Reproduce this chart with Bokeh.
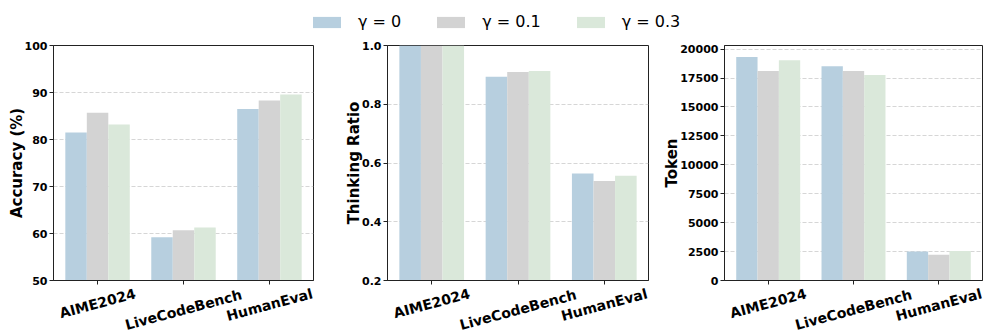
import numpy as np
from bokeh.plotting import figure
from bokeh.models import (FixedTicker, PrintfTickFormatter, Range1d, Legend,
                          LegendItem, ColumnDataSource)
from bokeh.core.properties import value
from bokeh.layouts import column, row
from bokeh.embed import file_html
from bokeh.resources import INLINE

categories = ["AIME2024", "LiveCodeBench", "HumanEval"]
series_labels = ["γ = 0", "γ = 0.1", "γ = 0.3"]
colors = ["#b7cfdf", "#d3d3d3", "#dae8da"]

accuracy_g0 = [81.5, 59.2, 86.5]
accuracy_g01 = [85.7, 60.7, 88.3]
accuracy_g03 = [83.2, 61.3, 89.6]

ratio_g0 = [1.0, 0.894, 0.564]
ratio_g01 = [1.0, 0.910, 0.539]
ratio_g03 = [1.0, 0.913, 0.557]

token_g0 = [19330, 18530, 2510]
token_g01 = [18120, 18120, 2230]
token_g03 = [19050, 17770, 2540]

acc_ticks = [50, 60, 70, 80, 90, 100]
ratio_ticks = [0.2, 0.4, 0.6, 0.8, 1.0]
token_ticks = [0, 2500, 5000, 7500, 10000, 12500, 15000, 17500, 20000]

FONT = "DejaVu Sans"
BAR_W = 0.25
ROT = np.deg2rad(15)
TOP, FRAME_H, BOTTOM = 7, 235, 6
LEG_H = 38
LAB_H = 332 - LEG_H - (TOP + FRAME_H + BOTTOM)


def panel(series, ylabel, y0, y1, ticks, fmt, left, right, frame_w):
    xr = Range1d(-0.5125, 2.5125)
    p = figure(width=left + frame_w + right, height=TOP + FRAME_H + BOTTOM,
               x_range=xr, y_range=Range1d(y0, y1),
               output_backend="svg", toolbar_location=None,
               min_border_left=left, min_border_right=right,
               min_border_top=TOP, min_border_bottom=BOTTOM)
    n = len(series)
    for i, (vals, col) in enumerate(zip(series, colors)):
        xs = np.arange(len(categories)) + (i - (n - 1) / 2) * BAR_W
        p.vbar(x=xs, top=vals, bottom=0, width=BAR_W, fill_color=col,
               line_color=None)
    p.xgrid.visible = False
    p.ygrid.grid_line_color = "#cccccc"
    p.ygrid.grid_line_dash = "4 2"
    p.ygrid.grid_line_alpha = 0.8
    p.ygrid.ticker = FixedTicker(ticks=ticks)
    p.outline_line_color = "#222222"
    p.outline_line_width = 1
    p.outline_line_alpha = 1

    xa = p.xaxis[0]
    xa.ticker = FixedTicker(ticks=list(range(len(categories))))
    xa.major_label_overrides = {i: "" for i in range(len(categories))}
    xa.major_label_standoff = 0
    xa.minor_tick_line_color = None
    xa.major_tick_out = 4
    xa.major_tick_in = 0
    xa.axis_line_color = "#222222"
    xa.major_tick_line_color = "#222222"

    ya = p.yaxis[0]
    ya.ticker = FixedTicker(ticks=ticks)
    ya.formatter = PrintfTickFormatter(format=fmt)
    ya.axis_label = ylabel
    ya.axis_label_text_font = FONT
    ya.axis_label_text_font_style = "bold"
    ya.axis_label_text_font_size = "15px"
    ya.axis_label_text_color = "black"
    ya.axis_label_standoff = -4
    ya.major_label_text_font = FONT
    ya.major_label_text_font_style = "bold"
    ya.major_label_text_font_size = "11px"
    ya.major_label_text_color = "black"
    ya.major_label_standoff = 2
    ya.minor_tick_line_color = None
    ya.major_tick_out = 4
    ya.major_tick_in = 0
    ya.axis_line_color = "#222222"
    ya.major_tick_line_color = "#222222"

    # strip below the panel holding the rotated category labels,
    # sharing the panel's x range so labels sit under the ticks
    q = figure(width=left + frame_w + right, height=LAB_H,
               x_range=xr, y_range=Range1d(0, LAB_H),
               x_axis_type=None, y_axis_type=None,
               output_backend="svg", toolbar_location=None,
               min_border_left=left, min_border_right=right,
               min_border_top=0, min_border_bottom=0)
    q.outline_line_color = None
    q.xgrid.visible = False
    q.ygrid.visible = False
    est_len = np.array([len(c) for c in categories]) * 9.7
    centre = 8 - BOTTOM + (est_len * np.sin(ROT) + 10 * np.cos(ROT)) / 2
    src = ColumnDataSource(dict(x=list(range(len(categories))),
                                y=list(LAB_H - centre), text=categories))
    q.text(x="x", y="y", text="text", source=src, angle=ROT,
           text_align="center", text_baseline="middle",
           text_font=value(FONT), text_font_style="bold",
           text_font_size="14px", text_color="black")
    return column(p, q)


p1 = panel([accuracy_g0, accuracy_g01, accuracy_g03], "Accuracy (%)",
           50, 100, acc_ticks, "%d", 53, 27, 260)
p2 = panel([ratio_g0, ratio_g01, ratio_g03], "Thinking Ratio",
           0.2, 1.0, ratio_ticks, "%.1f", 47, 12, 261)
p3 = panel([token_g0, token_g01, token_g03], "Token",
           0, 20317, token_ticks, "%d", 63, 15, 259)

lg = figure(width=997, height=LEG_H, x_range=Range1d(0, 1),
            y_range=Range1d(0, 1), x_axis_type=None, y_axis_type=None,
            output_backend="svg", toolbar_location=None, min_border=0)
lg.outline_line_color = None
lg.xgrid.visible = False
lg.ygrid.visible = False
items = []
for lab, col in zip(series_labels, colors):
    r = lg.vbar(x=[5], top=[1], width=0.1, fill_color=col, line_color=None)
    items.append(LegendItem(label=lab, renderers=[r]))
legend = Legend(items=items, orientation="horizontal", location=(309, 7),
                border_line_color=None, background_fill_alpha=0,
                glyph_width=35, glyph_height=14, label_standoff=14,
                spacing=32, padding=0, margin=0,
                label_text_font=FONT, label_text_font_size="16px",
                label_text_color="black")
lg.add_layout(legend)

layout = column(lg, row(p1, p2, p3))

open("out.html", "w").write(file_html(layout, INLINE))
